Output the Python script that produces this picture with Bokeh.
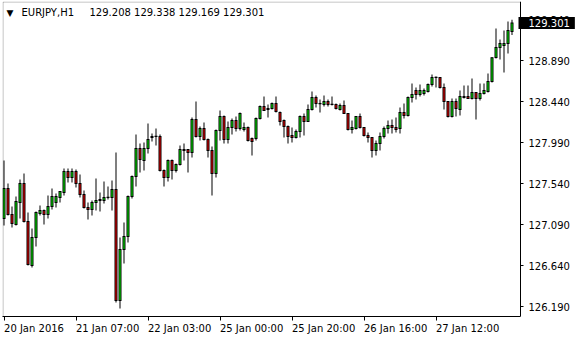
from bokeh.plotting import figure
from bokeh.models import Range1d, FixedTicker, Label, ColumnDataSource, LinearAxis, BoxAnnotation
from bokeh.embed import file_html
from bokeh.resources import INLINE

symbol = "EURJPY,H1"
header_values = "129.208 129.338 129.169 129.301"
last_price = 129.301

opens = [127.156,127.485,127.200,127.090,127.332,127.540,127.123,126.640,126.948,127.211,
127.244,127.200,127.288,127.332,127.387,127.442,127.672,127.606,127.672,127.540,
127.420,127.277,127.255,127.332,127.354,127.354,127.387,127.387,127.474,126.256,
126.816,126.959,127.398,127.617,127.925,127.793,127.925,128.045,128.056,128.056,
127.683,127.606,127.793,127.683,127.749,127.903,127.914,127.881,128.243,128.056,
128.144,128.023,127.903,127.650,128.122,128.276,128.023,128.155,128.232,128.144,
128.133,128.155,128.034,128.034,128.254,128.386,128.353,128.364,128.419,128.320,
128.232,128.166,128.067,128.045,128.111,128.276,128.221,128.353,128.484,128.419,
128.408,128.440,128.408,128.408,128.353,128.397,128.309,128.133,128.144,128.276,
128.155,128.067,128.045,127.903,127.980,128.056,128.144,128.177,128.155,128.144,
128.320,128.287,128.484,128.561,128.517,128.528,128.550,128.627,128.704,128.704,
128.594,128.440,128.276,128.440,128.353,128.495,128.495,128.473,128.539,128.473,
128.528,128.550,128.660,128.923,129.033,129.055,129.077,129.208]

highs = [127.793,127.540,127.288,127.398,127.584,127.650,127.222,127.046,127.233,127.299,
127.255,127.409,127.485,127.431,127.453,127.705,127.705,127.705,127.694,127.639,
127.464,127.332,127.354,127.595,127.442,127.562,127.507,127.573,127.881,126.948,
127.112,127.409,127.628,128.078,127.980,127.991,128.199,128.089,128.144,128.078,
127.694,127.804,127.804,127.760,127.958,127.980,127.916,128.265,128.440,128.166,
128.210,128.034,127.947,128.133,128.342,128.287,128.221,128.254,128.276,128.320,
128.210,128.166,128.045,128.265,128.397,128.495,128.408,128.430,128.495,128.331,
128.243,128.177,128.155,128.133,128.287,128.309,128.408,128.550,128.506,128.462,
128.506,128.462,128.495,128.419,128.419,128.451,128.311,128.232,128.276,128.309,
128.157,128.100,128.047,128.012,128.100,128.166,128.232,128.243,128.265,128.375,
128.419,128.495,128.638,128.594,128.627,128.583,128.638,128.737,128.715,128.706,
128.638,128.442,128.473,128.473,128.561,128.616,128.616,128.693,128.541,128.638,
128.638,128.748,128.925,129.242,129.121,129.220,129.319,129.338]

lows = [127.079,127.189,127.057,127.079,127.156,127.112,126.640,126.618,126.849,127.189,
127.090,127.156,127.255,127.277,127.332,127.409,127.551,127.551,127.496,127.387,
127.266,127.145,127.189,127.244,127.233,127.321,127.365,127.244,126.234,126.168,
126.662,126.893,127.376,127.507,127.661,127.683,127.870,128.001,127.958,127.672,
127.507,127.562,127.584,127.661,127.738,127.793,127.661,127.826,128.045,128.012,
128.012,127.826,127.409,127.606,128.012,127.980,127.980,128.078,128.111,128.122,
128.111,128.001,127.848,128.012,128.243,128.342,128.265,128.353,128.320,128.177,
128.045,127.980,127.991,128.034,128.045,128.067,128.218,128.342,128.375,128.320,
128.386,128.386,128.397,128.353,128.342,128.309,128.122,128.089,128.133,128.144,
128.056,127.991,127.826,127.848,127.903,128.034,128.089,128.089,128.100,128.089,
128.254,128.276,128.430,128.462,128.495,128.506,128.539,128.605,128.594,128.583,
128.353,128.265,128.265,128.276,128.287,128.473,128.473,128.462,128.243,128.451,
128.517,128.539,128.649,128.912,128.901,128.759,128.967,129.169]

closes = [127.485,127.200,127.101,127.343,127.540,127.123,126.651,126.948,127.222,127.244,
127.200,127.288,127.398,127.398,127.453,127.672,127.606,127.672,127.540,127.420,
127.277,127.255,127.332,127.354,127.365,127.387,127.390,127.474,126.256,126.816,
126.959,127.398,127.617,127.925,127.804,127.925,128.023,128.056,128.058,127.683,
127.606,127.793,127.683,127.749,127.914,127.914,127.881,128.243,128.056,128.144,
128.023,127.903,127.650,128.122,128.276,128.023,128.155,128.232,128.144,128.309,
128.155,128.012,128.001,128.254,128.386,128.342,128.364,128.419,128.331,128.221,
128.166,128.056,128.045,128.111,128.276,128.221,128.353,128.484,128.419,128.417,
128.440,128.408,128.410,128.364,128.397,128.309,128.133,128.155,128.276,128.155,
128.067,128.045,127.903,127.980,128.056,128.144,128.177,128.155,128.133,128.320,
128.287,128.484,128.517,128.517,128.561,128.561,128.627,128.704,128.706,128.594,
128.440,128.276,128.440,128.364,128.495,128.484,128.473,128.539,128.473,128.528,
128.561,128.660,128.920,129.033,129.077,129.077,129.220,129.301]

price_ticks = [126.19, 126.64, 127.09, 127.54, 127.99, 128.44, 128.89, 129.34]
time_tick_bars = [0, 18, 36, 54, 72, 90, 108]
time_tick_labels = ["20 Jan 2016", "21 Jan 07:00", "22 Jan 03:00", "25 Jan 00:00",
                    "25 Jan 20:00", "26 Jan 16:00", "27 Jan 12:00"]

UP = "#00ff00"
DOWN = "#ff0000"
FONT = "DejaVu Sans"
FS = "10px"

# layout constants (bar index units: 4 px per bar)
X0, XAXIS = -0.375, 129.125          # left frame edge, price-scale line
XEND = X0 + 578 / 4.0                # frame extends under the price scale
Y0, Y1 = 126.081, 129.538
PXY = (Y1 - Y0) / 315.0              # one screen pixel in price units

tops = [max(o, c) for o, c in zip(opens, closes)]
bots = [min(o, c) for o, c in zip(opens, closes)]
in_top, in_bot = [], []
for t, b in zip(tops, bots):
    it, ib = t - 0.5 * PXY, b + 0.5 * PXY
    if it <= ib:
        it = ib = (t + b) / 2.0
    in_top.append(it)
    in_bot.append(ib)

idx = list(range(len(opens)))
src = ColumnDataSource(dict(
    x=idx, high=highs, low=lows,
    out_top=[t + 0.5 * PXY for t in tops], out_bot=[b - 0.5 * PXY for b in bots],
    in_top=in_top, in_bot=in_bot,
    color=[UP if c >= o else DOWN for o, c in zip(opens, closes)],
))

p = figure(width=580, height=340, output_backend="svg", toolbar_location=None,
           x_range=Range1d(X0, XEND), y_range=Range1d(Y0, Y1),
           x_axis_location="below", y_axis_location=None,
           min_border_left=2, min_border_right=0, min_border_top=1, min_border_bottom=24)
p.background_fill_color = "white"
p.border_fill_color = "white"
p.outline_line_color = None
p.grid.visible = False

# wick (1 px), body outline (3 px black) and body fill (1 px colour), all as filled bars
p.vbar(x="x", width=0.25, top="high", bottom="low", source=src,
       fill_color="black", line_color=None)
p.vbar(x="x", width=0.75, top="out_top", bottom="out_bot", source=src,
       fill_color="black", line_color=None)
p.vbar(x="x", width=0.25, top="in_top", bottom="in_bot", source=src,
       fill_color="color", line_color=None)

# chart frame (left / top / right)
p.add_layout(BoxAnnotation(left=X0 + 0.125, right=XAXIS, bottom=Y0, top=Y1 - 0.0055,
                           fill_color=None, line_color="black", line_width=1))

# price scale drawn at the right edge of the candle area
ya = LinearAxis(fixed_location=XAXIS)
ya.ticker = FixedTicker(ticks=price_ticks)
ya.major_label_overrides = {t: f"{t:.3f}" for t in price_ticks}
ya.major_tick_out = 3
ya.major_tick_in = 0
ya.minor_tick_out = 0
ya.minor_tick_in = 0
ya.major_label_standoff = 5
ya.axis_line_color = "black"
ya.major_label_text_font = FONT
ya.major_label_text_font_size = FS
ya.major_label_text_color = "black"
p.add_layout(ya, "right")

# time scale: tick marks
xa = p.xaxis[0]
xa.bounds = (X0, XAXIS)
xa.ticker = FixedTicker(ticks=time_tick_bars)
xa.major_label_overrides = {b: "" for b in time_tick_bars}
xa.major_label_text_font_size = "0px"
xa.major_label_standoff = 0
xa.major_tick_out = 4
xa.major_tick_in = 0
xa.minor_tick_out = 0
xa.minor_tick_in = 0
xa.axis_line_color = "black"

# time scale: labels, left-aligned at each tick (label centre = tick + half label width)
label_half_widths = [7.5, 7.9, 7.9, 7.9, 7.9, 7.9, 7.9]
label_pos = [b + h for b, h in zip(time_tick_bars, label_half_widths)]
xl = LinearAxis()
xl.ticker = FixedTicker(ticks=label_pos)
xl.major_label_overrides = {pos: l for pos, l in zip(label_pos, time_tick_labels)}
xl.axis_line_color = None
xl.major_tick_out = 0
xl.major_tick_in = 0
xl.minor_tick_out = 0
xl.minor_tick_in = 0
xl.major_label_standoff = 2
xl.major_label_text_font = FONT
xl.major_label_text_font_size = FS
xl.major_label_text_color = "black"
p.add_layout(xl, "below")

p.add_layout(Label(x=4, y=304, x_units="screen", y_units="screen", text="\u25bc",
                   text_font=FONT, text_font_size="9px", text_baseline="middle",
                   text_color="black"))
p.add_layout(Label(x=19, y=304, x_units="screen", y_units="screen", text=symbol,
                   text_font=FONT, text_font_size=FS, text_baseline="middle",
                   text_color="black"))
p.add_layout(Label(x=87, y=304, x_units="screen", y_units="screen", text=header_values,
                   text_font=FONT, text_font_size=FS, text_baseline="middle",
                   text_color="black"))
p.add_layout(Label(x=516, y=last_price, x_units="screen", y_units="data",
                   text=f"{last_price:.3f}", text_font=FONT, text_font_size=FS,
                   text_baseline="middle", text_align="left", text_color="white",
                   background_fill_color="black",
                   padding=dict(left=10, right=5, top=2, bottom=2)))

open("out.html", "w").write(file_html(p, INLINE))
